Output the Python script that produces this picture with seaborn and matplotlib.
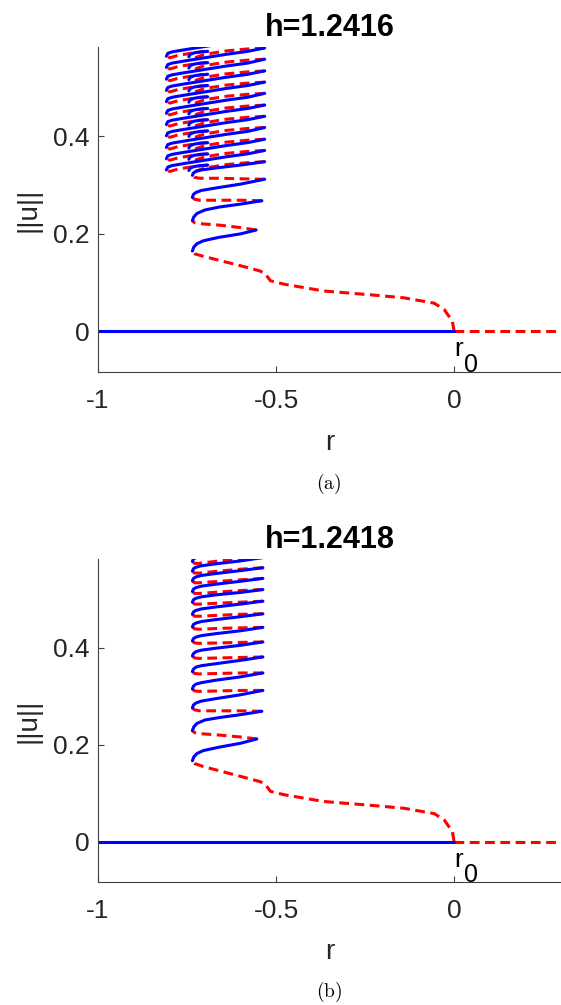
import matplotlib
matplotlib.use("Agg")
import matplotlib.pyplot as plt
import numpy as np
import pandas as pd
import seaborn as sns

# ---------------- data ----------------
x_ticks = [-1, -0.5, 0]
x_ticklabels = ["-1", "-0.5", "0"]
y_ticks = [0, 0.2, 0.4]
y_ticklabels = ["0", "0.2", "0.4"]
titles = ["h=1.2416", "h=1.2418"]
captions = ["(a)", "(b)"]

# trivial branch u = 0
triv_stable_r = [-1.0, 0.0]
triv_unstable_r = [0.0, 0.3]
triv_u = [0.0, 0.0]

# tail of the snake leaving r0 (unstable)
tail_r = [0.000, -0.005, -0.028, -0.056, -0.141, -0.216, -0.366, -0.478, -0.516,
          -0.530, -0.545, -0.601, -0.704, -0.728, -0.735]
tail_a_u = [0.000, 0.021, 0.045, 0.058, 0.069, 0.074, 0.083, 0.097, 0.104,
            0.118, 0.124, 0.135, 0.154, 0.159, 0.165]
tail_b_u = [0.000, 0.021, 0.045, 0.058, 0.069, 0.074, 0.083, 0.097, 0.104,
            0.118, 0.124, 0.135, 0.155, 0.161, 0.167]

# lower snake loops, panel (a): (kind, r, u)
low_a = [
    ("stable", [-0.735, -0.731, -0.722, -0.704, -0.660, -0.600, -0.556],
               [0.165, 0.173, 0.180, 0.186, 0.193, 0.200, 0.208]),
    ("unstable", [-0.556, -0.600, -0.660, -0.715, -0.729, -0.735],
                 [0.208, 0.213, 0.218, 0.221, 0.223, 0.227]),
    ("stable", [-0.735, -0.731, -0.722, -0.700, -0.660, -0.600, -0.540],
               [0.227, 0.235, 0.242, 0.249, 0.255, 0.261, 0.268]),
    ("unstable", [-0.540, -0.600, -0.660, -0.715, -0.729, -0.735],
                 [0.268, 0.269, 0.269, 0.269, 0.271, 0.275]),
    ("stable", [-0.735, -0.732, -0.725, -0.710, -0.670, -0.600, -0.532],
               [0.275, 0.281, 0.285, 0.289, 0.294, 0.302, 0.312]),
    ("unstable", [-0.532, -0.600, -0.660, -0.715, -0.729, -0.735],
                 [0.312, 0.313, 0.314, 0.314, 0.316, 0.320]),
    ("stable", [-0.735, -0.732, -0.725, -0.710, -0.670, -0.600, -0.532],
               [0.320, 0.325, 0.328, 0.331, 0.335, 0.341, 0.348]),
]

# upper snake loops, panel (a): unstable back, short stable wiggle,
# unstable to the far-left fold, long stable
wig_red_r = [-0.532, -0.58, -0.64, -0.70, -0.728, -0.745]
wig_mblue_r = [-0.745, -0.741, -0.730, -0.712, -0.692]
wig_mred_r = [-0.692, -0.71, -0.74, -0.775, -0.798, -0.808]
wig_lblue_r = [-0.808, -0.804, -0.792, -0.76, -0.70, -0.64, -0.58, -0.532]

wig_red_u = [
    [0.348, 0.346, 0.342, 0.335, 0.328, 0.330],
    [0.371, 0.369, 0.365, 0.358, 0.351, 0.353],
    [0.394, 0.392, 0.388, 0.381, 0.374, 0.376],
    [0.418, 0.416, 0.412, 0.405, 0.398, 0.400],
    [0.441, 0.439, 0.435, 0.428, 0.421, 0.423],
    [0.464, 0.462, 0.458, 0.451, 0.444, 0.446],
    [0.488, 0.486, 0.482, 0.475, 0.468, 0.470],
    [0.511, 0.509, 0.505, 0.498, 0.491, 0.493],
    [0.534, 0.532, 0.528, 0.521, 0.514, 0.516],
    [0.558, 0.556, 0.552, 0.545, 0.538, 0.540],
    [0.581, 0.579, 0.575, 0.568, 0.561, 0.563],
]
wig_mblue_u = [
    [0.330, 0.335, 0.338, 0.340, 0.341],
    [0.353, 0.358, 0.361, 0.363, 0.364],
    [0.376, 0.381, 0.384, 0.386, 0.387],
    [0.400, 0.405, 0.408, 0.410, 0.411],
    [0.423, 0.428, 0.431, 0.433, 0.434],
    [0.446, 0.451, 0.454, 0.456, 0.457],
    [0.470, 0.475, 0.478, 0.480, 0.481],
    [0.493, 0.498, 0.501, 0.503, 0.504],
    [0.516, 0.521, 0.524, 0.526, 0.527],
    [0.540, 0.545, 0.548, 0.550, 0.551],
    [0.563, 0.568, 0.571, 0.573, 0.574],
]
wig_mred_u = [
    [0.341, 0.340, 0.337, 0.333, 0.328, 0.331],
    [0.364, 0.363, 0.360, 0.356, 0.351, 0.354],
    [0.387, 0.386, 0.383, 0.379, 0.374, 0.377],
    [0.411, 0.410, 0.407, 0.403, 0.398, 0.401],
    [0.434, 0.433, 0.430, 0.426, 0.421, 0.424],
    [0.457, 0.456, 0.453, 0.449, 0.444, 0.447],
    [0.481, 0.480, 0.477, 0.473, 0.468, 0.471],
    [0.504, 0.503, 0.500, 0.496, 0.491, 0.494],
    [0.527, 0.526, 0.523, 0.519, 0.514, 0.517],
    [0.551, 0.550, 0.547, 0.543, 0.538, 0.541],
    [0.574, 0.573, 0.570, 0.566, 0.561, 0.564],
]
wig_lblue_u = [
    [0.331, 0.337, 0.340, 0.344, 0.351, 0.358, 0.364, 0.371],
    [0.354, 0.360, 0.363, 0.367, 0.374, 0.381, 0.387, 0.394],
    [0.377, 0.383, 0.386, 0.390, 0.397, 0.404, 0.410, 0.418],
    [0.401, 0.407, 0.410, 0.414, 0.421, 0.428, 0.434, 0.441],
    [0.424, 0.430, 0.433, 0.437, 0.444, 0.451, 0.457, 0.464],
    [0.447, 0.453, 0.456, 0.460, 0.467, 0.474, 0.480, 0.488],
    [0.471, 0.477, 0.480, 0.484, 0.491, 0.498, 0.504, 0.511],
    [0.494, 0.500, 0.503, 0.507, 0.514, 0.521, 0.527, 0.534],
    [0.517, 0.523, 0.526, 0.530, 0.537, 0.544, 0.550, 0.558],
    [0.541, 0.547, 0.550, 0.554, 0.561, 0.568, 0.574, 0.581],
    [0.564, 0.570, 0.573, 0.577, 0.584, 0.591, 0.597, 0.604],
]

# panel (b): regular snake
low_b = [
    ("stable", [-0.735, -0.731, -0.722, -0.704, -0.660, -0.600, -0.554],
               [0.167, 0.175, 0.182, 0.188, 0.195, 0.203, 0.212]),
    ("unstable", [-0.554, -0.600, -0.660, -0.715, -0.729, -0.735],
                 [0.212, 0.216, 0.220, 0.223, 0.225, 0.229]),
    ("stable", [-0.735, -0.731, -0.722, -0.700, -0.660, -0.600, -0.540],
               [0.229, 0.237, 0.244, 0.251, 0.256, 0.262, 0.269]),
    ("unstable", [-0.540, -0.600, -0.660, -0.715, -0.729, -0.735],
                 [0.269, 0.270, 0.270, 0.270, 0.272, 0.276]),
]
snake_blue_r = [-0.735, -0.732, -0.725, -0.710, -0.670, -0.600, -0.537]
snake_red_r = [-0.537, -0.600, -0.660, -0.715, -0.729, -0.735]
snake_blue_u = [
    [0.276, 0.282, 0.286, 0.290, 0.295, 0.303, 0.312],
    [0.315, 0.321, 0.325, 0.328, 0.333, 0.340, 0.348],
    [0.351, 0.356, 0.360, 0.363, 0.367, 0.374, 0.381],
    [0.383, 0.388, 0.392, 0.395, 0.399, 0.405, 0.412],
    [0.414, 0.419, 0.422, 0.425, 0.429, 0.435, 0.442],
    [0.443, 0.448, 0.451, 0.454, 0.458, 0.464, 0.470],
    [0.469, 0.474, 0.477, 0.480, 0.484, 0.490, 0.496],
    [0.494, 0.499, 0.502, 0.505, 0.509, 0.514, 0.520],
    [0.516, 0.521, 0.524, 0.527, 0.531, 0.537, 0.543],
    [0.538, 0.543, 0.546, 0.549, 0.553, 0.559, 0.565],
    [0.558, 0.563, 0.566, 0.569, 0.573, 0.579, 0.586],
    [0.578, 0.583, 0.586, 0.589, 0.593, 0.599, 0.606],
]
snake_red_u = [
    [0.312, 0.312, 0.311, 0.310, 0.311, 0.315],
    [0.348, 0.348, 0.347, 0.346, 0.347, 0.351],
    [0.381, 0.380, 0.379, 0.378, 0.379, 0.383],
    [0.412, 0.411, 0.410, 0.409, 0.410, 0.414],
    [0.442, 0.441, 0.440, 0.438, 0.439, 0.443],
    [0.470, 0.469, 0.467, 0.465, 0.465, 0.469],
    [0.496, 0.494, 0.492, 0.490, 0.490, 0.494],
    [0.520, 0.518, 0.515, 0.512, 0.512, 0.516],
    [0.543, 0.540, 0.537, 0.534, 0.534, 0.538],
    [0.565, 0.562, 0.558, 0.554, 0.554, 0.558],
    [0.586, 0.583, 0.579, 0.574, 0.574, 0.578],
]

# ---------------- assemble segments ----------------
def panel_segments(tail_u, low, extra):
    segs = [("stable", triv_stable_r, triv_u),
            ("unstable", triv_unstable_r, triv_u),
            ("unstable", tail_r, tail_u)]
    segs += low
    segs += extra
    return segs

extra_a = []
for i in range(len(wig_red_u)):
    extra_a.append(("unstable", wig_red_r, wig_red_u[i]))
    extra_a.append(("stable", wig_mblue_r, wig_mblue_u[i]))
    extra_a.append(("unstable", wig_mred_r, wig_mred_u[i]))
    extra_a.append(("stable", wig_lblue_r, wig_lblue_u[i]))

extra_b = []
for i in range(len(snake_blue_u)):
    extra_b.append(("stable", snake_blue_r, snake_blue_u[i]))
    if i < len(snake_red_u):
        extra_b.append(("unstable", snake_red_r, snake_red_u[i]))

def to_frame(segs):
    rows = []
    for k, (kind, rs, us) in enumerate(segs):
        for r, u in zip(rs, us):
            rows.append((k, kind, r, u))
    return pd.DataFrame(rows, columns=["seg", "kind", "r", "u"])

frames = [to_frame(panel_segments(tail_a_u, low_a, extra_a)),
          to_frame(panel_segments(tail_b_u, low_b, extra_b))]

# ---------------- style ----------------
sns.set_theme(style="ticks")
plt.rcParams["font.family"] = ["Liberation Sans", "DejaVu Sans"]
plt.rcParams["axes.unicode_minus"] = False
plt.rcParams["mathtext.fontset"] = "cm"

W, H = 561, 1005
fig = plt.figure(figsize=(W / 100, H / 100), dpi=100)
fig.patch.set_facecolor("white")

axes_px = [(98, 47, 561, 372), (98, 559, 561, 882)]
caption_y = [484, 992]
axc = "#404040"

for p in range(2):
    x0, y0, x1, y1 = axes_px[p]
    ax = fig.add_axes([x0 / W, 1 - y1 / H, (x1 - x0) / W, (y1 - y0) / H])
    df = frames[p]
    sns.lineplot(data=df, x="r", y="u", units="seg", estimator=None, sort=False,
                 hue="kind", hue_order=["unstable", "stable"],
                 palette={"stable": "#0000ff", "unstable": "#ff0000"},
                 style="kind", style_order=["unstable", "stable"],
                 dashes={"stable": "", "unstable": (3.2, 1.8)},
                 linewidth=2.2, legend=False, ax=ax)
    ax.set_xlim(-1, 0.3)
    ax.set_ylim(-0.083, 0.583)
    ax.set_xticks(x_ticks)
    ax.set_xticklabels(x_ticklabels)
    ax.set_yticks(y_ticks)
    ax.set_yticklabels(y_ticklabels)
    for s in ["top", "right"]:
        ax.spines[s].set_visible(False)
    for s in ["left", "bottom"]:
        ax.spines[s].set_color(axc)
        ax.spines[s].set_linewidth(0.8)
    ax.tick_params(direction="in", length=4, width=0.8, colors=axc,
                   labelcolor="#262626", labelsize=19)
    ax.tick_params(axis="x", pad=12)
    ax.tick_params(axis="y", pad=6)
    ax.set_xlabel("r", fontsize=20, color="#262626")
    ax.set_ylabel("||u||", fontsize=20, color="#262626")
    ax.xaxis.set_label_coords(0.5, -0.218)
    ax.xaxis.label.set_va("center")
    ax.yaxis.set_label_coords(-0.121, 0.5)
    ax.set_title(titles[p], fontsize=22, fontweight="bold", pad=8, color="black")
    ax.annotate("r", xy=(0, 0), xytext=(0, -18), textcoords="offset points",
                ha="left", va="baseline", fontsize=19, color="black")
    ax.annotate("0", xy=(0, 0), xytext=(7, -29), textcoords="offset points",
                ha="left", va="baseline", fontsize=18, color="black")
    fig.text(329 / W, 1 - caption_y[p] / H, r"$\mathrm{" + captions[p] + "}$",
             ha="center", va="center", fontsize=14, color="black")

fig.savefig("out.png", dpi=100, facecolor="white")
